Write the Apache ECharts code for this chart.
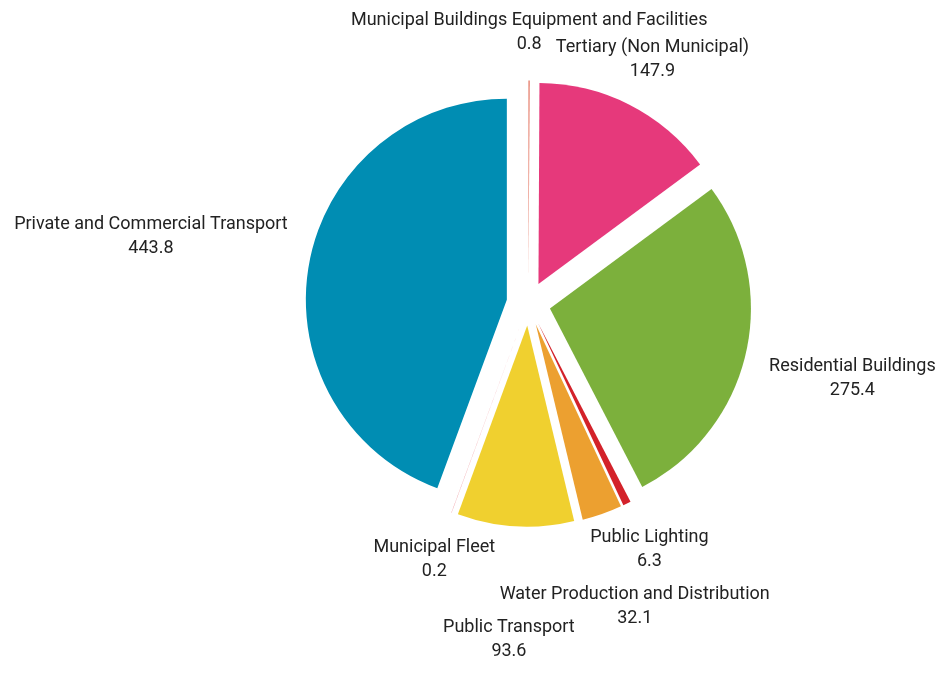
<!DOCTYPE html>
<html>
<head>
<meta charset="utf-8">
<script src="https://cdn.jsdelivr.net/npm/echarts@6/dist/echarts.min.js"></script>
<style>
  html, body { margin: 0; padding: 0; background: #fff; }
  #chart { width: 937px; height: 677px; }
</style>
</head>
<body>
<div id="chart"></div>
<script>
// Energy consumption by sector
const categories = [
  'Municipal Buildings Equipment and Facilities',
  'Tertiary (Non Municipal)',
  'Residential Buildings',
  'Public Lighting',
  'Water Production and Distribution',
  'Public Transport',
  'Municipal Fleet',
  'Private and Commercial Transport'
];
const values = [0.8, 147.9, 275.4, 6.3, 32.1, 93.6, 0.2, 443.8];
const colors = ['#dc5138', '#e6397b', '#7cb03c', '#d3222a', '#eca030', '#f0d02f', '#e4606a', '#008db3'];

const CENTER = [528.5, 303.5];
const RADIUS = 201;
const OFFSET = 22;          // every slice is pulled out from the centre
const FONT_SIZE = 18;
const LINE_H = 24;
const FONT = 'Roboto';
const TEXT_COLOR = '#222222';
const LABEL_RING = 247;     // labels sit just outside this circle
const LINE_CLEAR = 33;      // minimum vertical spacing between clashing text lines
const X_INSET = 6;          // lines may overhang each other by this much sideways
const MAX_PUSH = 80;        // give up pushing a label outward after this many pixels

const ctx = document.createElement('canvas').getContext('2d');
ctx.font = FONT_SIZE + 'px ' + FONT;
function lineWidths(i) {
  return [ctx.measureText(categories[i]).width, ctx.measureText(String(values[i])).width];
}

// Place each two-line label on its slice's mid-angle ray, pushed outward until
// none of its lines collide with a label placed earlier.
function computeLabelPositions() {
  const total = values.reduce((a, b) => a + b, 0);
  let acc = 0;
  const mids = values.map(v => { const m = (acc + v / 2) / total * Math.PI * 2; acc += v; return m; });
  const placed = [];
  const pos = [];
  values.forEach((_, i) => {
    const dx = Math.sin(mids[i]), dy = -Math.cos(mids[i]);
    const w = lineWidths(i);
    const halfW = Math.max(w[0], w[1]) / 2;
    const tx = Math.abs(dx) > 1e-6 ? halfW / Math.abs(dx) : Infinity;
    const ty = Math.abs(dy) > 1e-6 ? LINE_H / Math.abs(dy) : Infinity;
    const start = LABEL_RING + Math.min(tx, ty);
    const lineBox = (cx, cy, width) => ({
      x0: cx - width / 2 + X_INSET, x1: cx + width / 2 - X_INSET,
      y0: cy - LINE_CLEAR / 2, y1: cy + LINE_CLEAR / 2
    });
    const makeBoxes = (cx, cy) => [
      lineBox(cx, cy - LINE_H / 2, w[0]),
      lineBox(cx, cy + LINE_H / 2, w[1])
    ];
    const hits = bs => placed.some(p => bs.some(b =>
      b.x0 < p.x1 && b.x1 > p.x0 && b.y0 < p.y1 && b.y1 > p.y0));
    pos[i] = [CENTER[0] + dx * start, CENTER[1] + dy * start];
    let boxes = makeBoxes(pos[i][0], pos[i][1]);
    for (let k = 0; k <= MAX_PUSH; k++) {
      const cx = CENTER[0] + dx * (start + k), cy = CENTER[1] + dy * (start + k);
      const bs = makeBoxes(cx, cy);
      if (!hits(bs)) { pos[i] = [cx, cy]; boxes = bs; break; }
    }
    placed.push(...boxes);
  });
  return pos;
}
const labelPos = computeLabelPositions();

const chart = echarts.init(document.getElementById('chart'), null, { renderer: 'canvas' });
chart.setOption({
  animation: false,
  backgroundColor: '#ffffff',
  graphic: labelPos.map((p, i) => ({
    type: 'text',
    x: p[0],
    y: p[1],
    silent: true,
    style: {
      text: categories[i] + '\n' + values[i],
      fontFamily: FONT,
      fontSize: FONT_SIZE,
      lineHeight: LINE_H,
      fill: TEXT_COLOR,
      align: 'center',
      verticalAlign: 'middle'
    }
  })),
  series: [{
    type: 'pie',
    center: CENTER,
    radius: [0, RADIUS],
    startAngle: 90,
    clockwise: true,
    selectedMode: 'multiple',
    selectedOffset: OFFSET,
    silent: true,
    emphasis: { disabled: true },
    itemStyle: { borderWidth: 0 },
    label: { show: false },
    labelLine: { show: false },
    data: categories.map((name, i) => ({
      name: name,
      value: values[i],
      selected: true,
      itemStyle: { color: colors[i] }
    }))
  }]
});
</script>
</body>
</html>
